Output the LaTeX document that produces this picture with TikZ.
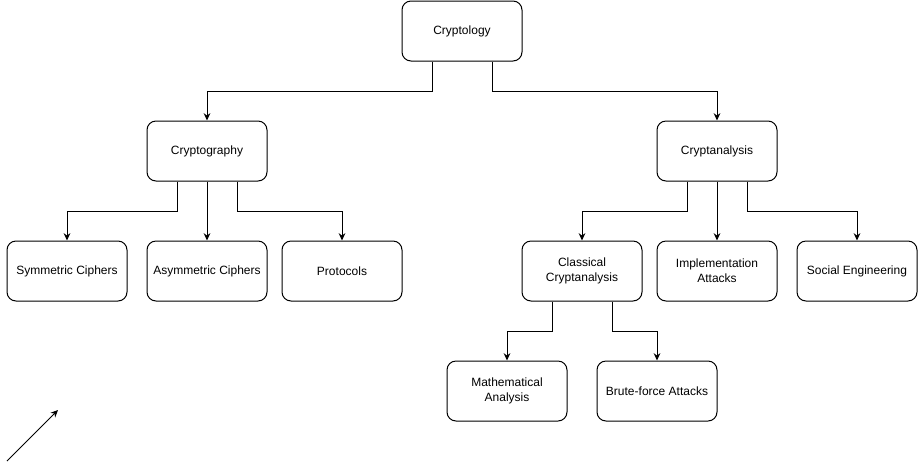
\documentclass[tikz,border=0pt]{standalone}
\usepackage{fontspec}
\setmainfont{Liberation Sans}
\usepackage{tikz}
\usetikzlibrary{arrows.meta, positioning, calc}
\tikzset{
  box/.style={rectangle, draw=black, fill=white,
    minimum width=90pt, minimum height=45pt, align=center,
    font=\fontsize{9}{11}\selectfont, rounded corners=6.75pt, line width=0.75pt},
  arrow/.style={-{Stealth[length=5.5pt, width=5pt]}, line width=0.75pt, color=black}
}

\begin{document}
\begin{tikzpicture}[x=0.75pt, y=-0.75pt]
  \useasboundingbox (0,0) rectangle (918,469);
  % Top
  \node[box] (cryptology) at (462,31) {Cryptology};
  % Second level
  \node[box] (cryptography) at (207,151) {Cryptography};
  \node[box] (cryptanalysis) at (717,151) {Cryptanalysis};
  % Third level
  \node[box] (symmetric) at (67,271) {Symmetric Ciphers};
  \node[box] (asymmetric) at (207,271) {Asymmetric Ciphers};
  \node[box] (protocols) at (342,271) {Protocols};
  \node[box] (classical) at (582,271) {Classical\\Cryptanalysis};
  \node[box] (implementation) at (717,271) {Implementation\\Attacks};
  \node[box] (social) at (857,271) {Social Engineering};
  % Fourth level
  \node[box] (mathematical) at (507,391) {Mathematical\\Analysis};
  \node[box] (bruteforce) at (657,391) {Brute-force Attacks};

  % Connectors
  \draw[arrow] ([xshift=-22.5pt]cryptology.south) -- ++(0,30) -| (cryptography.north);
  \draw[arrow] ([xshift=22.5pt]cryptology.south) -- ++(0,30) -| (cryptanalysis.north);

  \draw[arrow] ([xshift=-22.5pt]cryptography.south) -- ++(0,30) -| (symmetric.north);
  \draw[arrow] (cryptography.south) -- (asymmetric.north);
  \draw[arrow] ([xshift=22.5pt]cryptography.south) -- ++(0,30) -| (protocols.north);

  \draw[arrow] ([xshift=-22.5pt]cryptanalysis.south) -- ++(0,30) -| (classical.north);
  \draw[arrow] (cryptanalysis.south) -- (implementation.north);
  \draw[arrow] ([xshift=22.5pt]cryptanalysis.south) -- ++(0,30) -| (social.north);

  \draw[arrow] ([xshift=-22.5pt]classical.south) -- ++(0,30) -| (mathematical.north);
  \draw[arrow] ([xshift=22.5pt]classical.south) -- ++(0,30) -| (bruteforce.north);

  % Loose arrow
  \coordinate (tail) at (7,461);
  \coordinate (head) at (58,410);
  \draw[arrow] (tail) -- (head);
\end{tikzpicture}
\end{document}
